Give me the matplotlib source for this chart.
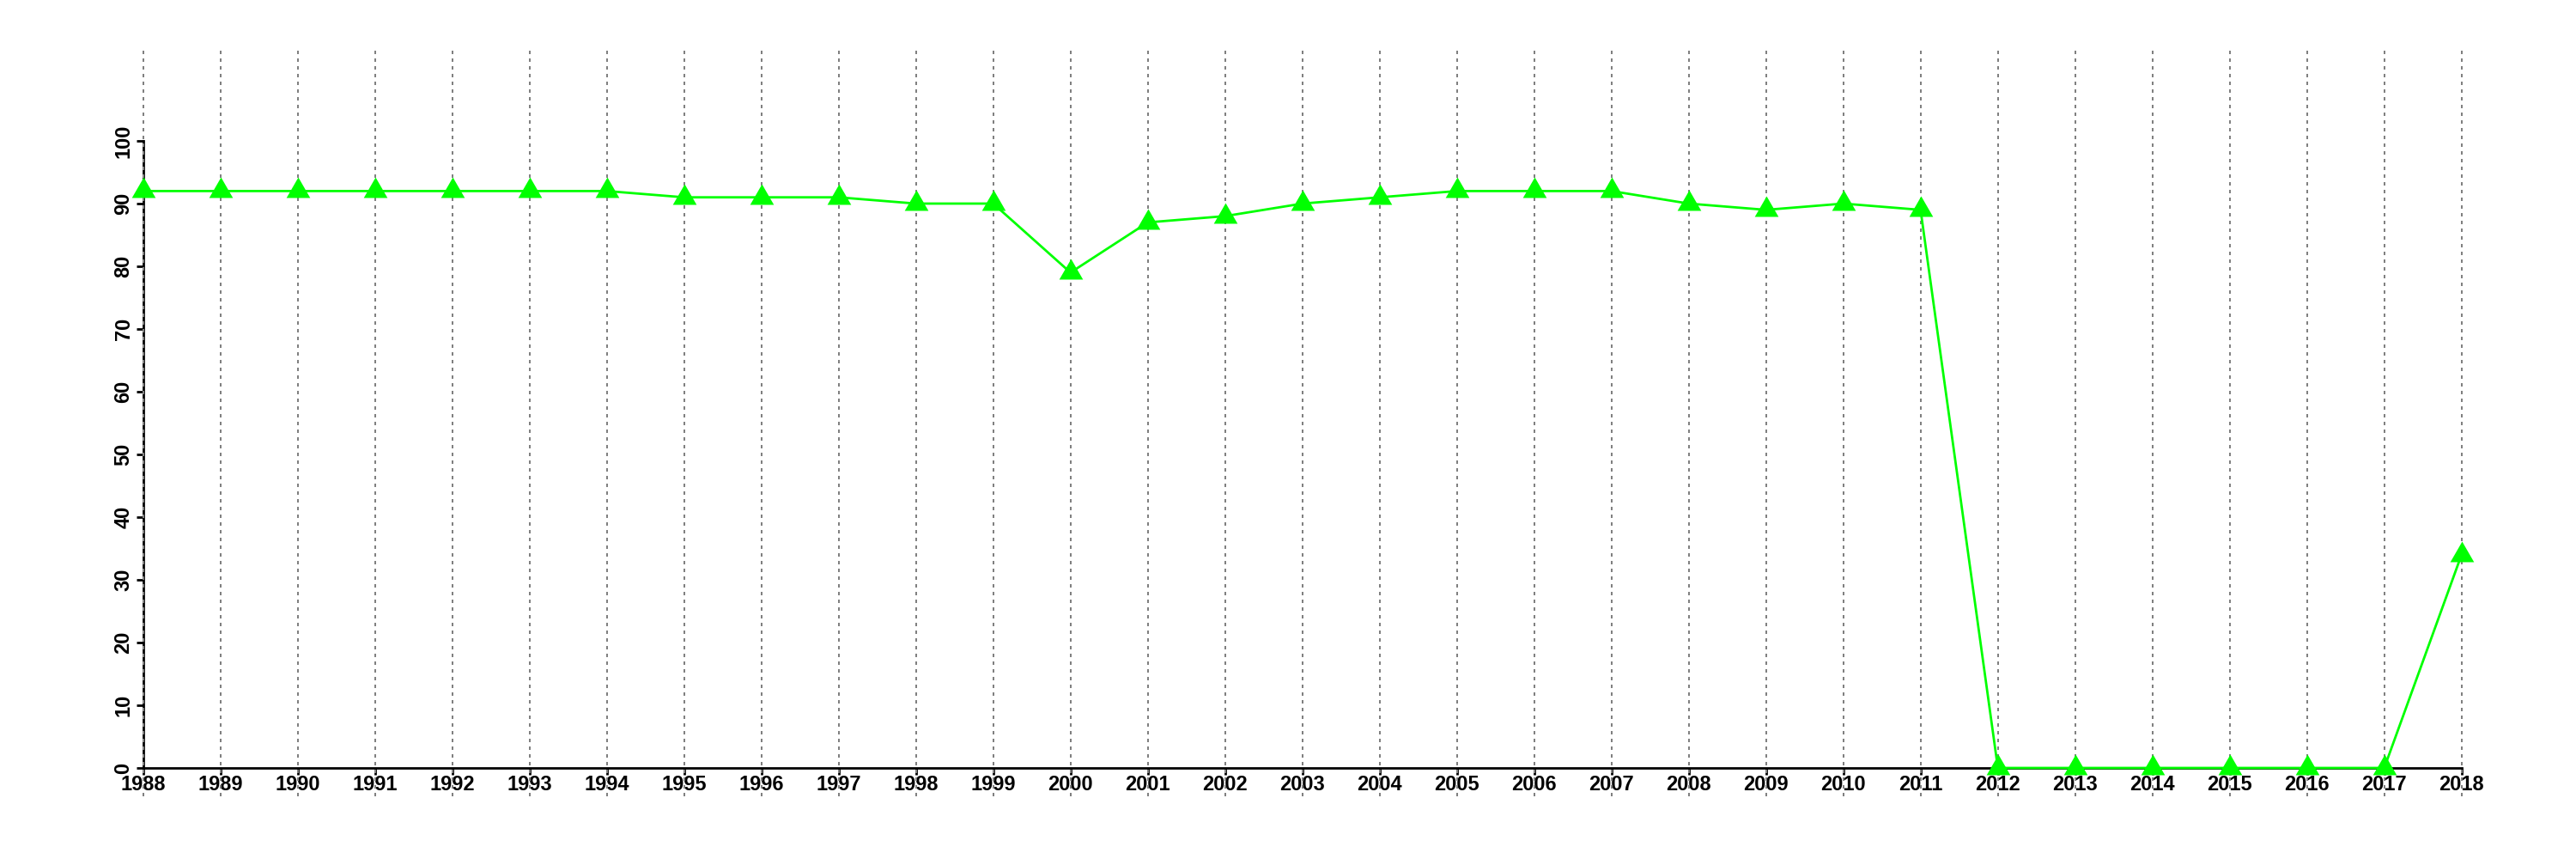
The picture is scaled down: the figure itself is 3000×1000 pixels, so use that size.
import numpy as np
import matplotlib
matplotlib.use("Agg")
import matplotlib.pyplot as plt

# values
years = list(range(1988, 2019))
values = [92, 92, 92, 92, 92, 92, 92, 91, 91, 91,
          90, 90, 79, 87, 88, 90, 91, 92, 92, 92,
          90, 89, 90, 89, 0, 0, 0, 0, 0, 0, 34]
yticks = list(range(0, 101, 10))

plt.rcParams['font.family'] = ['Liberation Sans', 'DejaVu Sans']

fig = plt.figure(figsize=(30, 10), dpi=100)
ax = fig.add_axes([0, 0, 1, 1])

# pixel mapping: 1988 -> x=167, 90 px per year; y=0 -> 894 from top, 7.3 px per unit
px_year = 90.0
px_unit = 7.3
ax.set_xlim(1988 - 166.7 / px_year, 1988 + (3000 - 166.7) / px_year)
ax.set_ylim(-106 / px_unit, (1000 - 106) / px_unit)

# dotted vertical guides, running through the year labels
ax.vlines(years, -4.5, 114.4, colors='#808080', linestyles=(0, (2, 2.5)),
          linewidth=1.44, zorder=3)

# equilateral triangle centred on its centroid (like R's pch 17)
tri = [(0, 1.155), (-1, -0.577), (1, -0.577), (0, 1.155)]
ax.plot(years, values, color='#00ff00', linewidth=2.0, marker=tri,
        markersize=23, markeredgewidth=0, markerfacecolor='#00ff00', zorder=4)

for side in ['top', 'right']:
    ax.spines[side].set_visible(False)
ax.spines['left'].set_position(('data', 1988))
ax.spines['left'].set_bounds(0, 100)
ax.spines['bottom'].set_position(('data', 0))
ax.spines['bottom'].set_bounds(1988, 2018)
for side in ['left', 'bottom']:
    ax.spines[side].set_linewidth(2.0)
    ax.spines[side].set_color('black')

ax.set_xticks(years)
ax.set_xticklabels([str(y) for y in years], fontsize=17, fontweight='bold')
ax.set_yticks(yticks)
ax.set_yticklabels([str(t) for t in yticks], fontsize=17, fontweight='bold',
                   rotation=90, va='center')
ax.tick_params(axis='both', direction='out', length=6, width=2.0, color='black')
ax.tick_params(axis='x', pad=0)
ax.tick_params(axis='y', pad=2)

fig.savefig('out.png', dpi=100, facecolor='white')
